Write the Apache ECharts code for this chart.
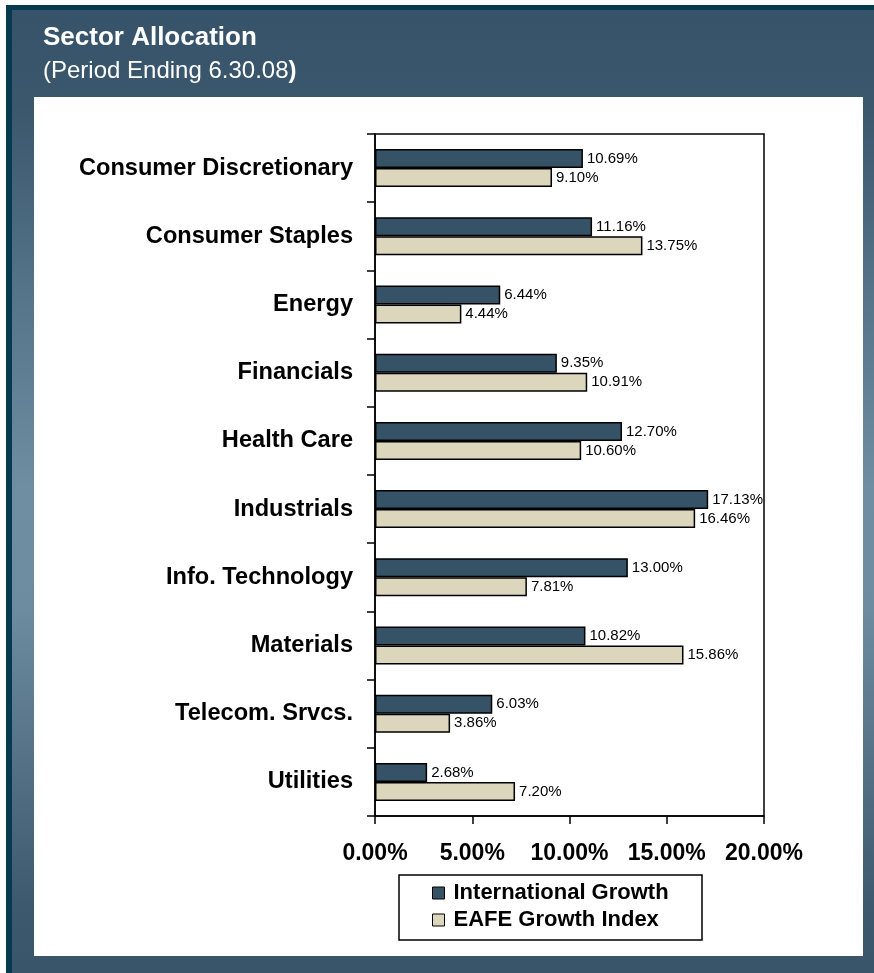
<!DOCTYPE html>
<html>
<head>
<meta charset="utf-8">
<script src="https://cdn.jsdelivr.net/npm/echarts@6/dist/echarts.min.js"></script>
<style>
  html, body { margin: 0; padding: 0; background: #ffffff; }
  #chart { width: 874px; height: 973px; }
</style>
</head>
<body>
<div id="chart"></div>
<script>
// Sector weights (%) for the portfolio and its benchmark
const sectors = [
  'Consumer Discretionary', 'Consumer Staples', 'Energy', 'Financials', 'Health Care',
  'Industrials', 'Info. Technology', 'Materials', 'Telecom. Srvcs.', 'Utilities'
];
const internationalGrowth = [10.69, 11.16, 6.44, 9.35, 12.70, 17.13, 13.00, 10.82, 6.03, 2.68];
const eafeGrowthIndex = [9.10, 13.75, 4.44, 10.91, 10.60, 16.46, 7.81, 15.86, 3.86, 7.20];
const seriesNames = ['International Growth', 'EAFE Growth Index'];
const xTicks = { min: 0, max: 20, step: 5 };

const FONT = '"Liberation Sans", Arial, Helvetica, sans-serif';
const pct = v => Number(v).toFixed(2) + '%';

const chart = echarts.init(document.getElementById('chart'), null, { renderer: 'canvas' });

const barLabel = {
  show: true,
  position: 'right',
  distance: 4,
  color: '#000',
  fontFamily: FONT,
  fontSize: 15,
  formatter: p => pct(p.value)
};

chart.setOption({
  animation: false,
  backgroundColor: '#ffffff',
  graphic: [
    // dark outer frame
    { type: 'rect', z: -10, silent: true,
      shape: { x: 6, y: 5, width: 868, height: 968 },
      style: { fill: '#073a4f' } },
    // gradient panel
    { type: 'rect', z: -9, silent: true,
      shape: { x: 12, y: 10, width: 862, height: 963 },
      style: { fill: new echarts.graphic.LinearGradient(0, 0, 0, 1, [
        { offset: 0, color: '#36536a' },
        { offset: 0.1, color: '#3a576c' },
        { offset: 0.3, color: '#56748a' },
        { offset: 0.5, color: '#6f8ea1' },
        { offset: 0.62, color: '#6e8c9f' },
        { offset: 0.8, color: '#516e82' },
        { offset: 0.93, color: '#3c596d' },
        { offset: 1, color: '#38556a' }
      ]) } },
    // white plotting panel
    { type: 'rect', z: -8, silent: true,
      shape: { x: 34, y: 97, width: 829, height: 859 },
      style: { fill: '#ffffff' } },
    // heading
    { type: 'text', z: 5, silent: true, x: 43, y: 38,
      style: { text: 'Sector Allocation', fill: '#ffffff', fontFamily: FONT,
        fontSize: 26, fontWeight: 'bold', verticalAlign: 'middle' } },
    { type: 'text', z: 5, silent: true, x: 43, y: 71,
      style: { text: '(Period Ending 6.30.08{b|)}', fill: '#ffffff', fontFamily: FONT,
        fontSize: 24, verticalAlign: 'middle',
        rich: { b: { fontWeight: 'bold', fontSize: 24, fill: '#ffffff', fontFamily: FONT } } } },
    // legend box
    { type: 'rect', z: 1, silent: true,
      shape: { x: 399, y: 875, width: 303, height: 65 },
      style: { fill: '#ffffff', stroke: '#000000', lineWidth: 1.5 } }
  ],
  grid: {
    left: 375, right: 110, top: 134, bottom: 157,
    show: true, borderColor: '#000', borderWidth: 1.5, backgroundColor: 'transparent'
  },
  legend: {
    orient: 'vertical',
    left: 427, top: 877,
    itemWidth: 12, itemHeight: 12, itemGap: 5,
    icon: 'rect',
    data: seriesNames,
    itemStyle: { borderColor: '#000', borderWidth: 1 },
    textStyle: { color: '#000', fontFamily: FONT, fontSize: 22, fontWeight: 'bold', padding: [0, 0, 0, 4] },
    z: 5
  },
  xAxis: {
    type: 'value',
    min: xTicks.min, max: xTicks.max, interval: xTicks.step,
    axisLine: { show: true, lineStyle: { color: '#000', width: 1.5 } },
    axisTick: { show: true, length: 8, lineStyle: { color: '#000', width: 1.5 } },
    splitLine: { show: false },
    axisLabel: { color: '#000', fontFamily: FONT, fontSize: 23, fontWeight: 'bold', margin: 26,
      formatter: v => pct(v) }
  },
  yAxis: {
    type: 'category',
    inverse: true,
    data: sectors,
    axisLine: { show: true, lineStyle: { color: '#000', width: 1.5 } },
    axisTick: { show: true, length: 8, alignWithLabel: false, lineStyle: { color: '#000', width: 1.5 } },
    axisLabel: { color: '#000', fontFamily: FONT, fontSize: 23.6, fontWeight: 'bold', margin: 22 }
  },
  series: [
    { name: seriesNames[0], type: 'bar', data: internationalGrowth,
      barWidth: 19, barGap: '0%',
      itemStyle: { color: '#365266', borderColor: '#000', borderWidth: 1.5 },
      label: barLabel },
    { name: seriesNames[1], type: 'bar', data: eafeGrowthIndex,
      barWidth: 19, barGap: '0%',
      itemStyle: { color: '#dcd6bd', borderColor: '#000', borderWidth: 1.5 },
      label: barLabel }
  ]
});
</script>
</body>
</html>
